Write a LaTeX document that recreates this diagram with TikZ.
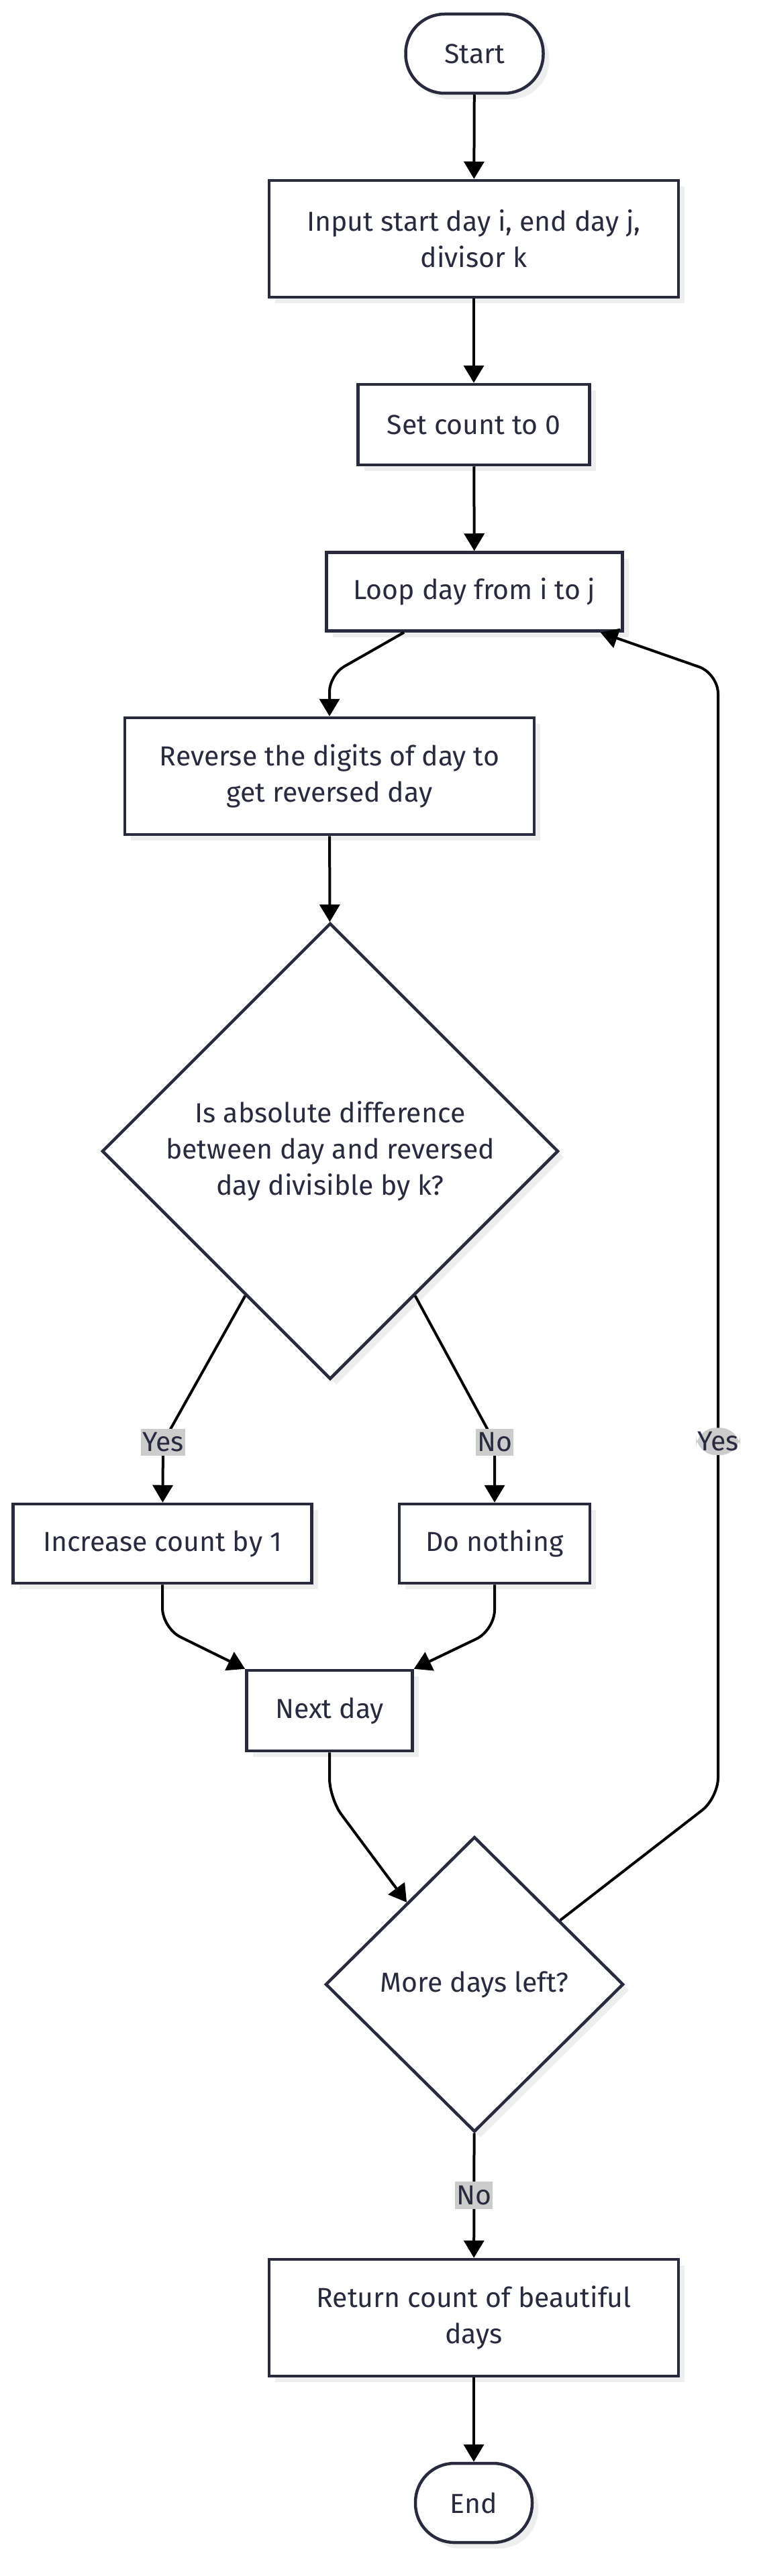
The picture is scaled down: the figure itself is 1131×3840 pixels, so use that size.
\documentclass[tikz,border=0pt]{standalone}
\usepackage{fontspec}
\setmainfont{Fira Sans}
\usetikzlibrary{arrows.meta,shapes.geometric,shadows,calc}
\definecolor{ink}{HTML}{2A2A3F}
\definecolor{lblgray}{HTML}{CCCCCC}
\definecolor{shade}{HTML}{EEEEEE}
\begin{document}
\begin{tikzpicture}[x=1pt,y=-1pt,line width=4pt,>={Triangle[length=26pt,width=30pt]},
 every node/.style={font=\fontsize{41}{54}\selectfont,text=ink},
 box/.style={draw=ink,line width=4.5pt,fill=white,align=center,inner sep=0pt,
  drop shadow={shadow xshift=9pt,shadow yshift=-9pt,fill=shade,opacity=1}},
 term/.style={box,rounded corners=58pt},
 dec/.style={box,diamond,aspect=1},
 lbl/.style={fill=lblgray,inner xsep=2pt,inner ysep=6pt}]
\useasboundingbox (0,0) rectangle (1131,3840);
\node[term,minimum width=205pt,minimum height=118pt] (start) at (707,80) {Start};
\node[box,minimum width=610pt,minimum height=174pt] (input) at (706,356) {Input start day i, end day j,\\divisor k};
\node[box,minimum width=345pt,minimum height=120pt] (setc) at (706,633) {Set count to 0};
\node[box,minimum width=441pt,minimum height=117pt] (loop) at (707,882) {Loop day from i to j};
\node[box,minimum width=610pt,minimum height=174pt] (rev) at (491,1157) {Reverse the digits of day to\\get reversed day};
\node[dec,minimum width=680pt,minimum height=680pt] (chk) at (492,1716) {Is absolute difference\\between day and reversed\\day divisible by k?};
\node[box,minimum width=445pt,minimum height=118pt] (inc) at (242,2301) {Increase count by 1};
\node[box,minimum width=284pt,minimum height=118pt] (skip) at (737,2301) {Do nothing};
\node[box,minimum width=247pt,minimum height=120pt] (next) at (491,2550) {Next day};
\node[dec,minimum width=444pt,minimum height=440pt] (more) at (707,2958) {More days left?};
\node[box,minimum width=610pt,minimum height=174pt] (ret) at (706,3455) {Return count of beautiful\\days};
\node[term,minimum width=174pt,minimum height=118pt] (stop) at (706,3731) {End};
\coordinate (b1) at (491,1006);
\coordinate (yc) at (243,2150);
\coordinate (nc) at (737,2150);
\coordinate (b2) at (242,2427);
\coordinate (b3) at (737,2430);
\coordinate (b4) at (491,2681);
\coordinate (r1) at (1070,2680);
\coordinate (r2) at (1070,1004);
\draw[->] (start)--(input);
\draw[->] (input)--(setc);
\draw[->] (setc)--(loop);
\draw[->,rounded corners=25pt] ([xshift=-105pt]loop.south)--(b1)--(rev);
\draw[->] (rev)--(chk);
\draw[->] ($(chk.west)!0.63!(chk.south)$)--(yc) node[lbl]{Yes}--(inc);
\draw[->] ($(chk.east)!0.63!(chk.south)$)--(nc) node[lbl]{No}--(skip);
\draw[->,rounded corners=30pt] (inc)--(b2)--(next.north west);
\draw[->,rounded corners=30pt] (skip)--(b3)--(next.north east);
\draw[->,rounded corners=30pt] (next)--(b4)--($(more.west)!0.55!(more.north)$);
\draw[->] (more)--node[lbl]{No}(ret);
\draw[->] (ret)--(stop);
\draw[->,rounded corners=30pt] ($(more.north)!0.57!(more.east)$)--(r1)--node[lbl,pos=0.317]{Yes}(r2)--([xshift=-35pt]loop.south east);
\end{tikzpicture}
\end{document}
